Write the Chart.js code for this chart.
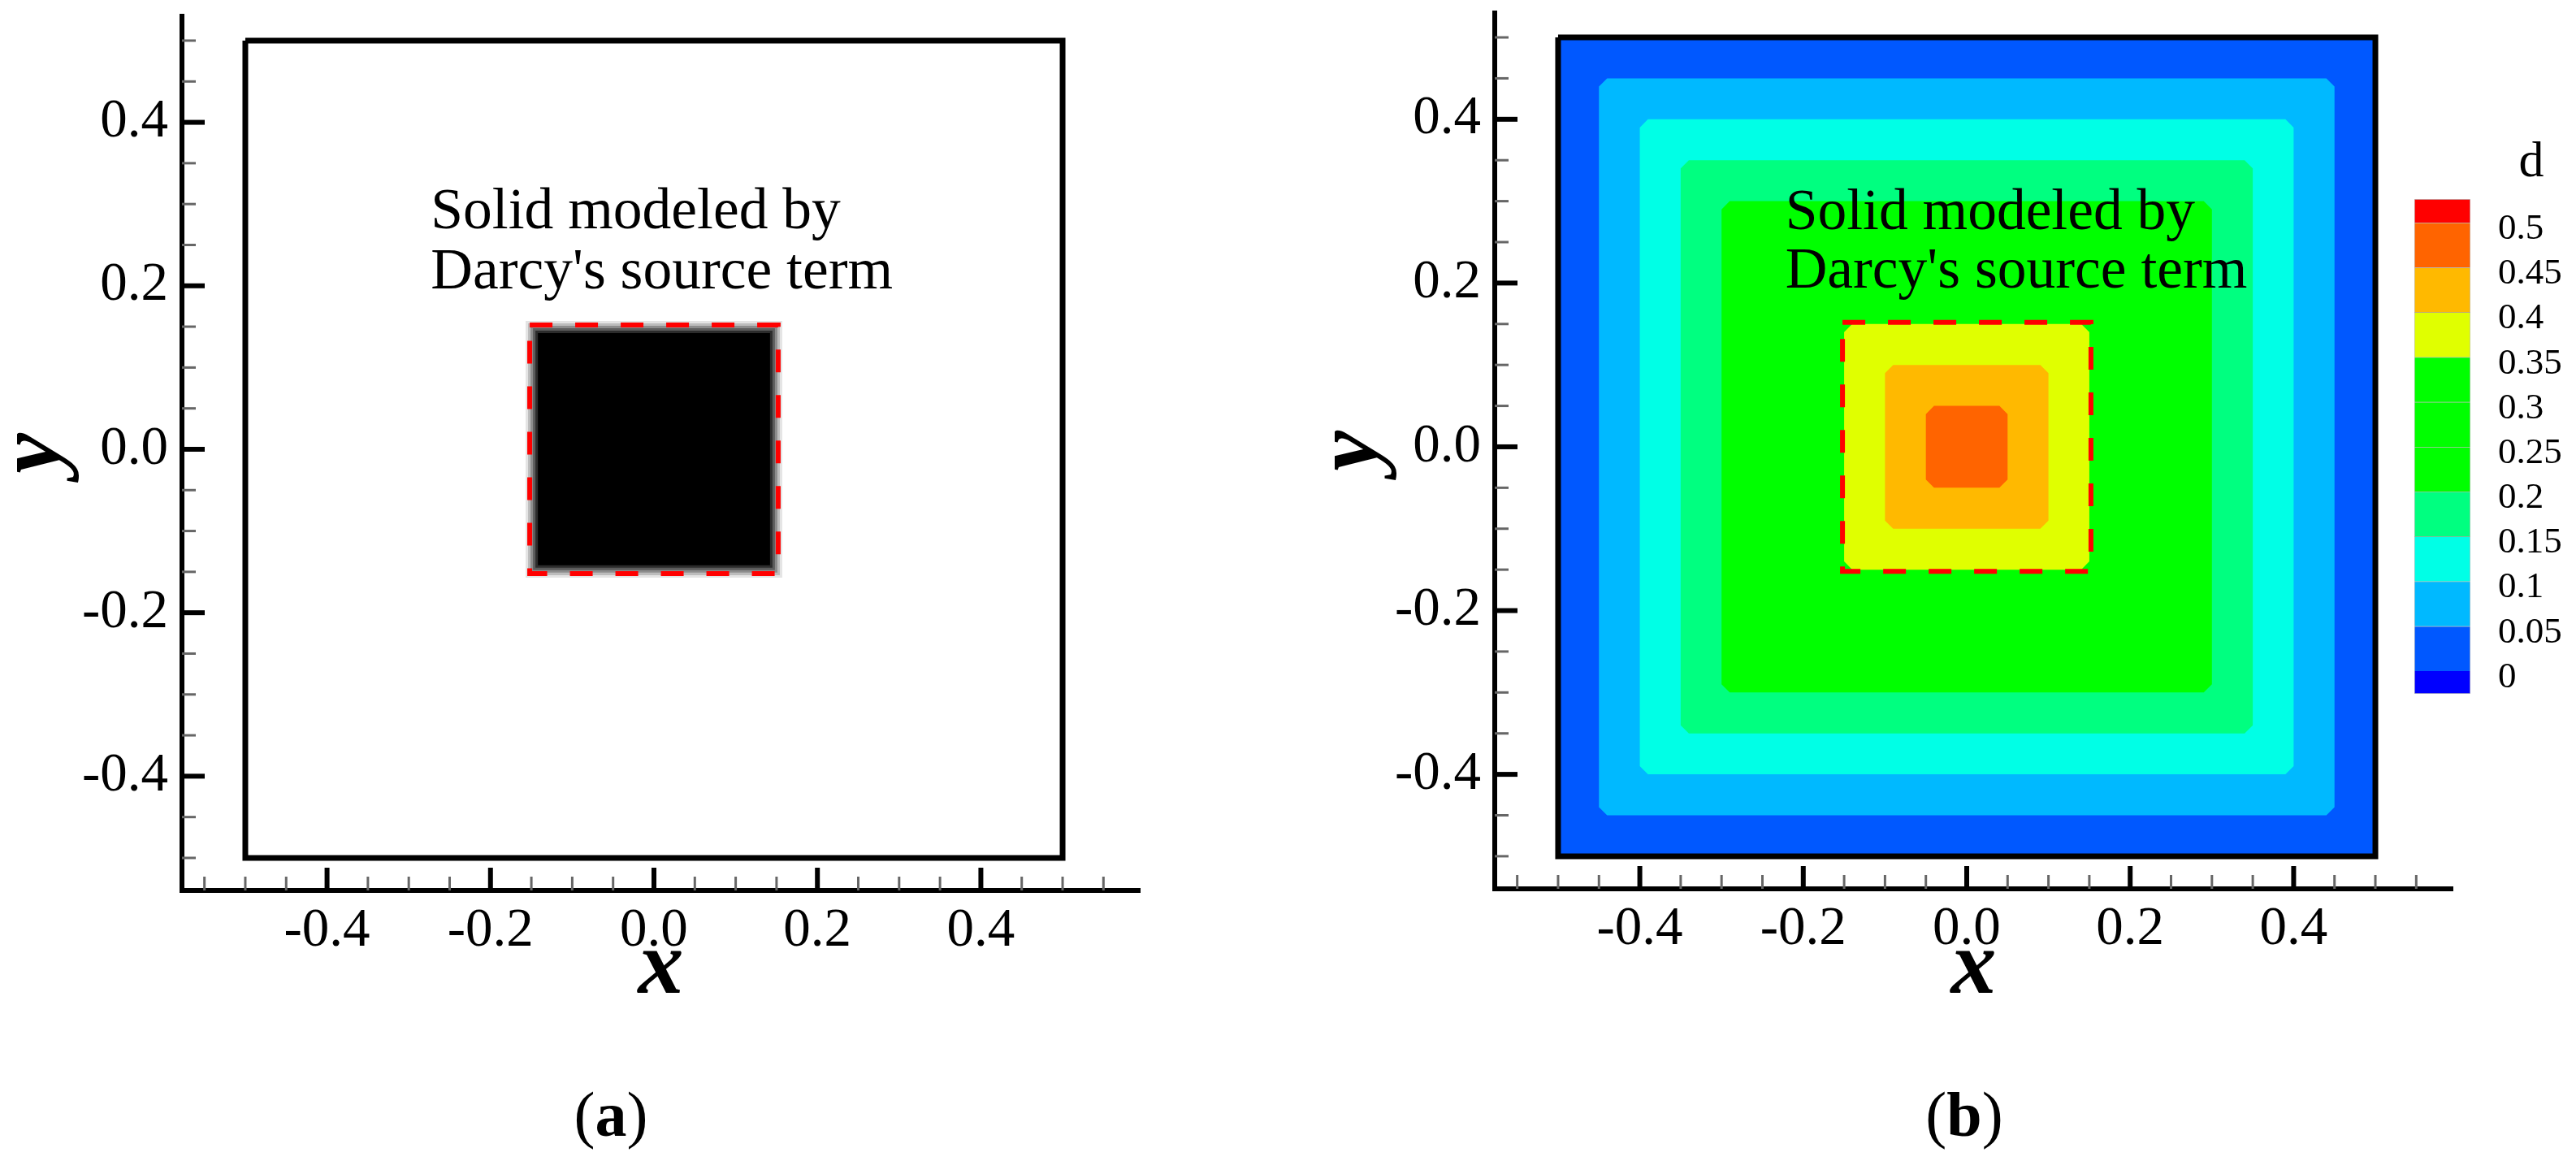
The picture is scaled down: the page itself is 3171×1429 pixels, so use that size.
<!DOCTYPE html>
<html>
<head>
<meta charset="utf-8">
<script src="https://cdn.jsdelivr.net/npm/chart.js@4"></script>
<style>
  html, body { margin: 0; background: #fff; }
  body { position: relative; width: 3171px; height: 1429px; overflow: hidden; font-family: "Liberation Serif", serif; color: #000; }
  canvas { position: absolute; top: 0; }
  .lbl { position: absolute; transform: translate(-50%, -50%); white-space: nowrap; }
</style>
</head>
<body>
<canvas id="panelA" width="1560" height="1429" style="left:0"></canvas>
<canvas id="panelB" width="1470" height="1429" style="left:1580px"></canvas>
<canvas id="colorBar" width="211" height="1429" style="left:2960px"></canvas>
<div class="lbl" style="left:752px;top:1372px;font-size:78px">(<b>a</b>)</div>
<div class="lbl" style="left:2418px;top:1372px;font-size:78px">(<b>b</b>)</div>
<div class="lbl" style="left:3116px;top:196px;font-size:62px">d</div>
<script>
const SERIF = 'Liberation Serif'

// axes, same for both panels
const xMin = -0.5775, xMax = 0.5944
const yMin = -0.5398, yMax = 0.5298
const xTickValues = [-0.55, -0.5, -0.45, -0.4, -0.35, -0.3, -0.25, -0.2, -0.15, -0.1, -0.05, 0, 0.05, 0.1, 0.15, 0.2, 0.25, 0.3, 0.35, 0.4, 0.45, 0.5, 0.55]
const xTickLabels = ['', '', '', '-0.4', '', '', '', '-0.2', '', '', '', '0.0', '', '', '', '0.2', '', '', '', '0.4', '', '', '']
const yTickValues = [-0.5, -0.45, -0.4, -0.35, -0.3, -0.25, -0.2, -0.15, -0.1, -0.05, 0, 0.05, 0.1, 0.15, 0.2, 0.25, 0.3, 0.35, 0.4, 0.45, 0.5]
const yTickLabels = ['', '', '-0.4', '', '', '', '-0.2', '', '', '', '0.0', '', '', '', '0.2', '', '', '', '0.4', '', '']

// half widths of the squares
const frameHalf = 0.5
const dashHalf = 0.152
// solid in panel a: black core with a soft grey edge
const solidHalf = [0.157, 0.154, 0.151, 0.148, 0.145, 0.142]
const solidGrey = ['#e4e4e4', '#bcbcbc', '#8c8c8c', '#5c5c5c', '#2c2c2c', '#000000']
// contour bands in panel b, outer to inner
const contourHalf = [0.45, 0.4, 0.35, 0.3, 0.15, 0.1, 0.05]
const contourColors = ['#00b9ff', '#00ffe6', '#00ff80', '#00ff00', '#e0ff00', '#ffb900', '#ff6400']
const frameColor = '#0058ff'

// colour bar
const barLow = [-0.0254, 0, 0.05, 0.1, 0.15, 0.2, 0.25, 0.3, 0.35, 0.4, 0.45, 0.5]
const barHigh = [0, 0.05, 0.1, 0.15, 0.2, 0.25, 0.3, 0.35, 0.4, 0.45, 0.5, 0.5263]
const barColors = ['#0000ff', '#0058ff', '#00b9ff', '#00ffe6', '#00ff80', '#00ff00', '#00ff00', '#00ff00', '#e0ff00', '#ffb900', '#ff6400', '#ff0000']
const barTickValues = [0, 0.05, 0.1, 0.15, 0.2, 0.25, 0.3, 0.35, 0.4, 0.45, 0.5]
const barTickLabels = ['0', '0.05', '0.1', '0.15', '0.2', '0.25', '0.3', '0.35', '0.4', '0.45', '0.5']

const noteLines = ['Solid modeled by', "Darcy's source term"]

// square outline, optional cut corners
const square = (h, cut = 0) => {
  if (!cut) return [{x: -h, y: h}, {x: h, y: h}, {x: h, y: -h}, {x: -h, y: -h}, {x: -h, y: h}]
  const c = h - cut
  return [{x: -c, y: h}, {x: c, y: h}, {x: h, y: c}, {x: h, y: -c}, {x: c, y: -h}, {x: -c, y: -h}, {x: -h, y: -c}, {x: -h, y: c}, {x: -c, y: h}]
}

const outline = (pts, order, extra) => Object.assign({
  data: pts, showLine: true, pointRadius: 0, tension: 0, order, clip: false, borderWidth: 0
}, extra)

// ticks point inward from the axis line, chart.js only does one length
const innerTicks = {
  id: 'innerTicks',
  afterDraw(chart) {
    const ctx = chart.ctx
    ctx.save()
    chart.scales.x.ticks.forEach(t => {
      const px = chart.scales.x.getPixelForValue(t.value)
      const len = t.label ? 28 : 17
      ctx.beginPath()
      ctx.lineWidth = t.label ? 6 : 3
      ctx.strokeStyle = t.label ? '#000' : '#666'
      ctx.moveTo(px, chart.chartArea.bottom)
      ctx.lineTo(px, chart.chartArea.bottom - len)
      ctx.stroke()
    })
    chart.scales.y.ticks.forEach(t => {
      const py = chart.scales.y.getPixelForValue(t.value)
      const len = t.label ? 28 : 17
      ctx.beginPath()
      ctx.lineWidth = t.label ? 6 : 3
      ctx.strokeStyle = t.label ? '#000' : '#666'
      ctx.moveTo(chart.chartArea.left, py)
      ctx.lineTo(chart.chartArea.left + len, py)
      ctx.stroke()
    })
    ctx.restore()
  }
}

const note = (xVal, yVals) => ({
  id: 'note',
  afterDraw(chart) {
    const ctx = chart.ctx
    ctx.save()
    ctx.font = '71.5px "' + SERIF + '"'
    ctx.fillStyle = '#000'
    ctx.textBaseline = 'alphabetic'
    noteLines.forEach((line, i) => {
      ctx.fillText(line, chart.scales.x.getPixelForValue(xVal), chart.scales.y.getPixelForValue(yVals[i]))
    })
    ctx.restore()
  }
})

const makePanel = (id, datasets, g, plugin) => new Chart(document.getElementById(id), {
  type: 'scatter',
  data: { datasets },
  plugins: [innerTicks, plugin],
  options: {
    responsive: false,
    devicePixelRatio: 1,
    animation: false,
    events: [],
    layout: { padding: { top: g.top, right: g.right, left: 0, bottom: 0 } },
    plugins: { legend: { display: false }, tooltip: { enabled: false } },
    scales: {
      x: {
        type: 'linear', min: xMin, max: xMax,
        afterBuildTicks: s => { s.ticks = xTickValues.map(value => ({ value })) },
        afterFit: s => { s.height = g.axisH; s.paddingLeft = 0; s.paddingRight = 0 },
        ticks: { autoSkip: false, maxRotation: 0, padding: 10, color: '#000', font: { family: SERIF, size: 67 },
          callback: (v, i) => xTickLabels[i] },
        grid: { drawOnChartArea: false, drawTicks: false },
        border: { width: 6, color: '#000' },
        title: { display: true, text: 'x', color: '#000', padding: { top: 0, bottom: 180 },
          font: { family: SERIF, size: 112, weight: 'bold', style: 'italic', lineHeight: 1 } }
      },
      y: {
        type: 'linear', min: yMin, max: yMax,
        afterBuildTicks: s => { s.ticks = yTickValues.map(value => ({ value })) },
        afterFit: s => { s.width = g.axisW; s.paddingTop = 0; s.paddingBottom = 0 },
        ticks: { autoSkip: false, padding: 17, color: '#000', font: { family: SERIF, size: 67 },
          callback: (v, i) => yTickLabels[i] },
        grid: { drawOnChartArea: false, drawTicks: false },
        border: { width: 6, color: '#000' },
        title: { display: true, text: 'y', color: '#000', padding: { top: g.titleX, bottom: 0 },
          font: { family: SERIF, size: 112, weight: 'bold', style: 'italic', lineHeight: 1 } }
      }
    }
  }
})

// panel a
const dashStyle = { borderColor: '#ff0000', borderWidth: 6, borderDash: [28, 28] }
const datasetsA = [
  outline(square(frameHalf), 0, { borderColor: '#000', borderWidth: 7, fill: false }),
  outline(square(dashHalf), 1, dashStyle)
]
solidHalf.forEach((h, i) => {
  datasetsA.push(outline(square(h), 10 - i, { fill: 'shape', backgroundColor: solidGrey[i] }))
})
makePanel('panelA', datasetsA, { top: 20, right: 157, axisH: 333, axisW: 224, titleX: -12 }, note(-0.273, [0.2704, 0.1968]))

// panel b
const datasetsB = [
  outline(square(frameHalf), 30, { borderColor: '#000', borderWidth: 7, fill: 'shape', backgroundColor: frameColor }),
  outline(square(dashHalf), 1, dashStyle)
]
contourHalf.forEach((h, i) => {
  datasetsB.push(outline(square(h, 0.01), 20 - i, { fill: 'shape', backgroundColor: contourColors[i] }))
})
makePanel('panelB', datasetsB, { top: 16, right: 31, axisH: 335, axisW: 260, titleX: 30 }, note(-0.222, [0.2659, 0.1944]))

// colour bar
new Chart(document.getElementById('colorBar'), {
  type: 'bar',
  data: {
    labels: [''],
    datasets: barColors.map((color, i) => ({
      data: [[barLow[i], barHigh[i]]],
      backgroundColor: color,
      borderColor: 'rgba(0,0,0,0.25)',
      borderWidth: 1,
      grouped: false,
      barPercentage: 1,
      categoryPercentage: 1
    }))
  },
  options: {
    responsive: false,
    devicePixelRatio: 1,
    animation: false,
    events: [],
    layout: { padding: { left: 12, top: 245, bottom: 575, right: 0 } },
    plugins: { legend: { display: false }, tooltip: { enabled: false } },
    scales: {
      x: { display: false },
      y: {
        position: 'right', min: -0.0254, max: 0.5263,
        afterBuildTicks: s => { s.ticks = barTickValues.map(value => ({ value })) },
        afterFit: s => { s.width = 130; s.paddingTop = 0; s.paddingBottom = 0 },
        // empty first line pushes the text a little below the band edge, as in the picture
        ticks: { autoSkip: false, padding: 26, color: '#000', font: { family: SERIF, size: 45, lineHeight: 0.36 },
          callback: (v, i) => ['', barTickLabels[i]] },
        grid: { display: false },
        border: { display: false }
      }
    }
  }
})
</script>
</body>
</html>
